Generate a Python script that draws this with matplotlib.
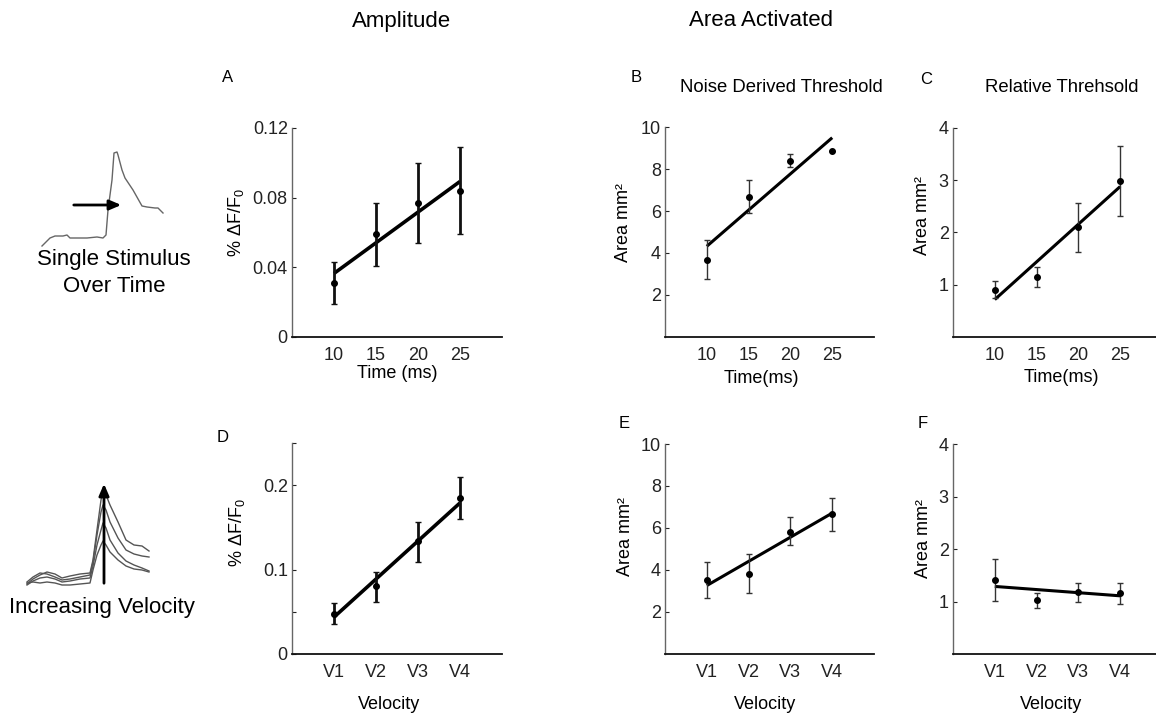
import matplotlib
matplotlib.use("Agg")
import matplotlib.pyplot as plt
import numpy as np

plt.rcParams['font.family'] = ['Liberation Sans', 'DejaVu Sans']
plt.rcParams['mathtext.fontset'] = 'custom'
plt.rcParams['mathtext.rm'] = 'Liberation Sans'
plt.rcParams['mathtext.it'] = 'Liberation Sans'

# ---------------- data ----------------
time_x = [10, 15, 20, 25]
vel_labels = ['V1', 'V2', 'V3', 'V4']
vel_x = [1, 2, 3, 4]

# A: amplitude vs time
amp_t_mean = [0.031, 0.059, 0.077, 0.084]
amp_t_lo = [0.019, 0.041, 0.054, 0.059]
amp_t_hi = [0.043, 0.077, 0.100, 0.109]
amp_t_fit = [0.0365, 0.0893]

# B: area (noise threshold) vs time
areaN_t_mean = [3.68, 6.67, 8.40, 8.88]
areaN_t_lo = [2.75, 5.89, 8.08, 8.88]
areaN_t_hi = [4.64, 7.47, 8.72, 8.88]
areaN_t_fit = [4.32, 9.49]

# C: area (relative threshold) vs time
areaR_t_mean = [0.90, 1.15, 2.11, 2.99]
areaR_t_lo = [0.755, 0.95, 1.63, 2.32]
areaR_t_hi = [1.07, 1.34, 2.56, 3.66]
areaR_t_fit = [0.717, 2.88]

# D: amplitude vs velocity
amp_v_mean = [0.047, 0.080, 0.134, 0.185]
amp_v_lo = [0.035, 0.062, 0.109, 0.160]
amp_v_hi = [0.060, 0.097, 0.156, 0.210]
amp_v_fit = [0.0437, 0.179]

# E: area (noise threshold) vs velocity
areaN_v_mean = [3.53, 3.82, 5.83, 6.66]
areaN_v_lo = [2.69, 2.89, 5.17, 5.88]
areaN_v_hi = [4.37, 4.76, 6.52, 7.42]
areaN_v_fit = [3.26, 6.71]

# F: area (relative threshold) vs velocity
areaR_v_mean = [1.41, 1.03, 1.18, 1.16]
areaR_v_lo = [1.01, 0.885, 0.99, 0.955]
areaR_v_hi = [1.81, 1.17, 1.35, 1.35]
areaR_v_fit = [1.287, 1.108]

# schematic traces (pixel space illustration)
single_x = [42, 50, 55, 63, 67, 70, 77, 87, 97, 103, 106, 108, 112, 114, 117, 118, 122, 125, 133, 142, 147, 155, 158, 163]
single_y = [246, 238, 236, 236, 235, 238, 238, 238, 237, 238, 235, 210, 180, 153, 152, 155, 170, 178, 190, 206, 207, 208, 208, 213]

multi_x = [27, 33, 40, 47, 55, 62, 70, 80, 90, 93, 97, 101, 103, 106, 110, 118, 126, 134, 142, 149]
multi_y = [
    [584, 579, 575, 572, 574, 578, 576, 574, 573, 560, 530, 500, 490, 495, 505, 522, 540, 545, 546, 551],
    [582, 577, 573, 574, 577, 580, 579, 577, 575, 562, 535, 512, 505, 510, 522, 538, 550, 554, 556, 557],
    [585, 581, 578, 577, 579, 582, 581, 579, 578, 566, 545, 530, 523, 528, 540, 553, 561, 565, 568, 571],
    [583, 582, 583, 582, 583, 585, 585, 584, 583, 570, 555, 545, 541, 545, 552, 560, 566, 569, 570, 572],
]

W, H = 1156, 717
fig = plt.figure(figsize=(W / 100, H / 100), dpi=100)


def ax_at(l, r, t, b):
    return fig.add_axes([l / W, 1 - b / H, (r - l) / W, (b - t) / H])


def style(ax):
    for s in ['top', 'right']:
        ax.spines[s].set_visible(False)
    ax.spines['left'].set_color('#666666')
    ax.spines['left'].set_linewidth(1.0)
    ax.spines['bottom'].set_color('#111111')
    ax.spines['bottom'].set_linewidth(1.3)
    ax.tick_params(direction='in', length=3, width=0.8, labelsize=13,
                   colors='#222222', pad=3)
    ax.tick_params(axis='x', pad=7, length=0)


def panel(ax, x, mean, lo, hi, fit, thick):
    yerr = [np.array(mean) - np.array(lo), np.array(hi) - np.array(mean)]
    ax.errorbar(x, mean, yerr=yerr, fmt='o', color='black', ms=4,
                ecolor='#111111' if thick else '#333333',
                elinewidth=2.0 if thick else 1.0, capsize=2, capthick=1.0,
                zorder=3)
    ax.plot([x[0], x[-1]], fit, color='black', lw=2.6 if thick else 2.2,
            solid_capstyle='butt', zorder=2)


yl_amp = '% ΔF/F$_0$'
yl_area = 'Area mm²'

# A
axA = ax_at(292, 502, 128, 337)
panel(axA, time_x, amp_t_mean, amp_t_lo, amp_t_hi, amp_t_fit, True)
axA.set_xlim(5, 30); axA.set_ylim(0, 0.12)
axA.set_xticks(time_x)
axA.set_yticks([0, 0.04, 0.08, 0.12])
axA.set_yticklabels(['0', '0.04', '0.08', '0.12'])
style(axA)
axA.set_ylabel(yl_amp, fontsize=13)
axA.yaxis.set_label_coords(-0.219, 0.545)
axA.set_xlabel('Time (ms)', fontsize=13)
axA.xaxis.set_label_coords(0.5, -0.135)

# B
axB = ax_at(665, 874, 127, 337)
panel(axB, time_x, areaN_t_mean, areaN_t_lo, areaN_t_hi, areaN_t_fit, False)
axB.set_xlim(5, 30); axB.set_ylim(0, 10)
axB.set_xticks(time_x)
axB.set_yticks([2, 4, 6, 8, 10])
style(axB)
axB.set_ylabel(yl_area, fontsize=13)
axB.yaxis.set_label_coords(-0.158, 0.545)
axB.set_xlabel('Time(ms)', fontsize=13)
axB.xaxis.set_label_coords(0.46, -0.155)

# C
axC = ax_at(953, 1162, 128, 337)
panel(axC, time_x, areaR_t_mean, areaR_t_lo, areaR_t_hi, areaR_t_fit, False)
axC.set_xlim(5, 30); axC.set_ylim(0, 4)
axC.set_xticks(time_x)
axC.set_yticks([1, 2, 3, 4])
style(axC)
axC.set_ylabel(yl_area, fontsize=13)
axC.yaxis.set_label_coords(-0.105, 0.58)
axC.set_xlabel('Time(ms)', fontsize=13)
axC.xaxis.set_label_coords(0.52, -0.155)

# D
axD = ax_at(292, 502, 443, 654)
panel(axD, vel_x, amp_v_mean, amp_v_lo, amp_v_hi, amp_v_fit, True)
axD.set_xlim(0, 5); axD.set_ylim(0, 0.25)
axD.set_xticks(vel_x); axD.set_xticklabels(vel_labels)
axD.set_yticks([0, 0.05, 0.1, 0.2, 0.25])
axD.set_yticklabels(['0', '', '0.1', '0.2', ''])
style(axD)
axD.set_ylabel(yl_amp, fontsize=13)
axD.yaxis.set_label_coords(-0.214, 0.573)
axD.set_xlabel('Velocity', fontsize=13)
axD.xaxis.set_label_coords(0.46, -0.2)

# E
axE = ax_at(665, 874, 444, 654)
panel(axE, vel_x, areaN_v_mean, areaN_v_lo, areaN_v_hi, areaN_v_fit, False)
axE.set_xlim(0, 5); axE.set_ylim(0, 10)
axE.set_xticks(vel_x); axE.set_xticklabels(vel_labels)
axE.set_yticks([2, 4, 6, 8, 10])
style(axE)
axE.set_ylabel(yl_area, fontsize=13)
axE.yaxis.set_label_coords(-0.148, 0.56)
axE.set_xlabel('Velocity', fontsize=13)
axE.xaxis.set_label_coords(0.48, -0.2)

# F
axF = ax_at(953, 1162, 444, 654)
panel(axF, vel_x, areaR_v_mean, areaR_v_lo, areaR_v_hi, areaR_v_fit, False)
axF.set_xlim(0, 5); axF.set_ylim(0, 4)
axF.set_xticks(vel_x); axF.set_xticklabels(vel_labels)
axF.set_yticks([1, 2, 3, 4])
style(axF)
axF.set_ylabel(yl_area, fontsize=13)
axF.yaxis.set_label_coords(-0.10, 0.55)
axF.set_xlabel('Velocity', fontsize=13)
axF.xaxis.set_label_coords(0.47, -0.2)

# overlay for text & schematics (pixel coordinates)
ov = fig.add_axes([0, 0, 1, 1], zorder=-1)
ov.set_xlim(0, W); ov.set_ylim(H, 0); ov.axis('off')

ov.text(402, 21, 'Amplitude', fontsize=16, ha='center', va='center')
ov.text(761, 21, 'Area Activated', fontsize=16, ha='center', va='center')
ov.text(781, 88, 'Noise Derived Threshold', fontsize=13.3, ha='center', va='center')
ov.text(1062, 88, 'Relative Threhsold', fontsize=13.3, ha='center', va='center')

for lab, (px, py) in zip('ABCDEF', [(228, 78), (636, 77), (926, 79), (223, 437), (624, 423), (923, 423)]):
    ov.text(px, py, lab, fontsize=12, ha='center', va='center')

# schematic top
ov.plot(single_x, single_y, color='#666666', lw=1.0)
ov.annotate('', xy=(124, 205), xytext=(71, 205),
            arrowprops=dict(arrowstyle='-|>,head_length=0.7,head_width=0.3',
                            color='black', lw=2))
ov.text(114, 260, 'Single Stimulus', fontsize=16, ha='center', va='center')
ov.text(114, 287, 'Over Time', fontsize=16, ha='center', va='center')

# schematic bottom
for ys in multi_y:
    ov.plot(multi_x, ys, color='#555555', lw=1.0)
ov.annotate('', xy=(104, 481), xytext=(104, 586),
            arrowprops=dict(arrowstyle='-|>,head_length=0.7,head_width=0.3',
                            color='black', lw=2))
ov.text(102, 607, 'Increasing Velocity', fontsize=16, ha='center', va='center')

fig.savefig('out.png', dpi=100)
